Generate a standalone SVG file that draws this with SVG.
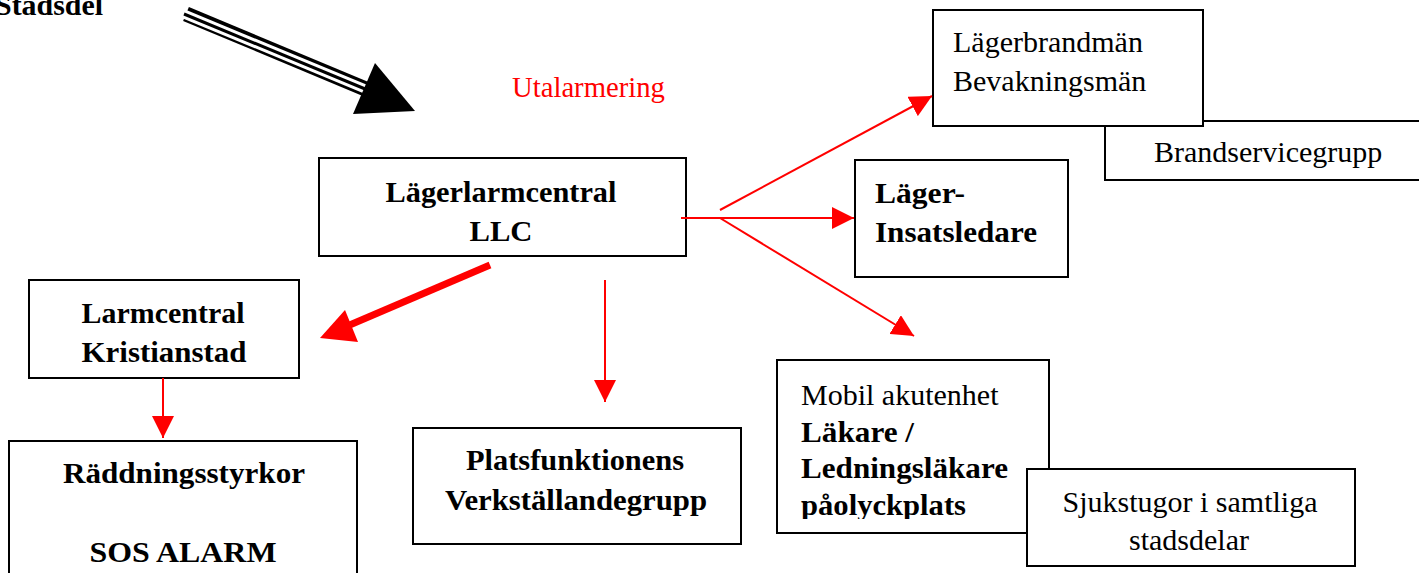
<svg xmlns="http://www.w3.org/2000/svg" width="1419" height="573" viewBox="0 0 1419 573">
<style>
.box{fill:#fff;stroke:#000;stroke-width:2}
.b{font-family:"Liberation Serif",serif;font-weight:700;font-size:30px;fill:#000}
.r{font-family:"Liberation Serif",serif;font-size:30px;fill:#000}
.c{text-anchor:middle}
.red{stroke:#ff0000;stroke-width:2;fill:none}
</style>
<defs>
<marker id="ah" markerUnits="userSpaceOnUse" markerWidth="22" markerHeight="22" refX="22" refY="11" orient="auto" viewBox="0 0 22 22">
<path d="M0,0 L22,11 L0,22 z" fill="#ff0000"/>
</marker>
<clipPath id="mclip"><rect x="778" y="361" width="270" height="158"/></clipPath>
</defs>

<text class="b" x="-5" y="15" textLength="108" lengthAdjust="spacingAndGlyphs">Stadsdel</text>
<text x="512" y="97" style="font-family:'Liberation Serif',serif;font-size:28.7px;fill:#ff0000">Utalarmering</text>

<g id="node-llc">
<rect class="box" x="319" y="158" width="367" height="98"/>
<text class="b c" x="501" y="202" textLength="231" lengthAdjust="spacingAndGlyphs">Lägerlarmcentral</text>
<text class="b c" x="501" y="241" textLength="63" lengthAdjust="spacingAndGlyphs">LLC</text>
</g>

<g id="node-brandservice">
<rect class="box" x="1105" y="121" width="330" height="59"/>
<text class="r" x="1154" y="162">Brandservicegrupp</text>
</g>

<g id="node-lagerbrandman">
<rect class="box" x="933" y="10" width="270" height="116"/>
<text class="r" x="953" y="52">Lägerbrandmän</text>
<text class="r" x="953" y="91">Bevakningsmän</text>
</g>

<g id="node-insatsledare">
<rect class="box" x="855" y="160" width="213" height="117"/>
<text class="b" x="875" y="203" textLength="90" lengthAdjust="spacingAndGlyphs">Läger-</text>
<text class="b" x="875" y="242" textLength="162" lengthAdjust="spacingAndGlyphs">Insatsledare</text>
</g>

<g id="node-larmcentral">
<rect class="box" x="29" y="280" width="270" height="98"/>
<text class="b c" x="163" y="323" textLength="163" lengthAdjust="spacingAndGlyphs">Larmcentral</text>
<text class="b c" x="164" y="362" textLength="165" lengthAdjust="spacingAndGlyphs">Kristianstad</text>
</g>

<g id="node-raddning">
<rect class="box" x="9" y="441" width="348" height="150"/>
<text class="b c" x="184" y="483" textLength="242" lengthAdjust="spacingAndGlyphs">Räddningsstyrkor</text>
<text class="b c" x="183" y="562" textLength="187" lengthAdjust="spacingAndGlyphs">SOS ALARM</text>
</g>

<g id="node-plats">
<rect class="box" x="413" y="428" width="328" height="116"/>
<text class="b c" x="575" y="470" textLength="218" lengthAdjust="spacingAndGlyphs">Platsfunktionens</text>
<text class="b c" x="576" y="510" textLength="262" lengthAdjust="spacingAndGlyphs">Verkställandegrupp</text>
</g>

<g id="node-mobil">
<rect class="box" x="777" y="360" width="272" height="173"/>
<g clip-path="url(#mclip)">
<text class="r" x="801" y="405">Mobil akutenhet</text>
<text class="b" x="801" y="442" textLength="113" lengthAdjust="spacingAndGlyphs">Läkare /</text>
<text class="b" x="801" y="478" textLength="207" lengthAdjust="spacingAndGlyphs">Ledningsläkare</text>
<text class="b" x="801" y="515" textLength="165" lengthAdjust="spacingAndGlyphs">påolyckplats</text>
</g>
</g>

<g id="node-sjukstugor">
<rect class="box" x="1027" y="469" width="328" height="97"/>
<text class="r c" x="1190" y="512">Sjukstugor i samtliga</text>
<text class="r c" x="1189" y="550">stadsdelar</text>
</g>

<g id="connectors">
<line class="red" x1="681" y1="218" x2="854" y2="218" marker-end="url(#ah)"/>
<line class="red" x1="720" y1="210" x2="932" y2="96" marker-end="url(#ah)"/>
<line class="red" x1="720" y1="218" x2="914" y2="336" marker-end="url(#ah)"/>
<line class="red" x1="605" y1="280" x2="605" y2="402" marker-end="url(#ah)"/>
<line class="red" x1="163" y1="378" x2="163" y2="438" marker-end="url(#ah)"/>
<line x1="490" y1="265" x2="345" y2="327" stroke="#ff0000" stroke-width="7"/>
<path d="M320,338 L345,310 L358,342 z" fill="#ff0000"/>
<g id="black-arrow">
<line x1="186" y1="14" x2="368" y2="90" stroke="#000" stroke-width="15"/>
<line x1="184" y1="14" x2="370" y2="91" stroke="#fff" stroke-width="9"/>
<line x1="184" y1="14" x2="370" y2="91" stroke="#000" stroke-width="3"/>
<path d="M375,63 L353,114 L415,111 z" fill="#000"/>
</g>
</g>
</svg>
